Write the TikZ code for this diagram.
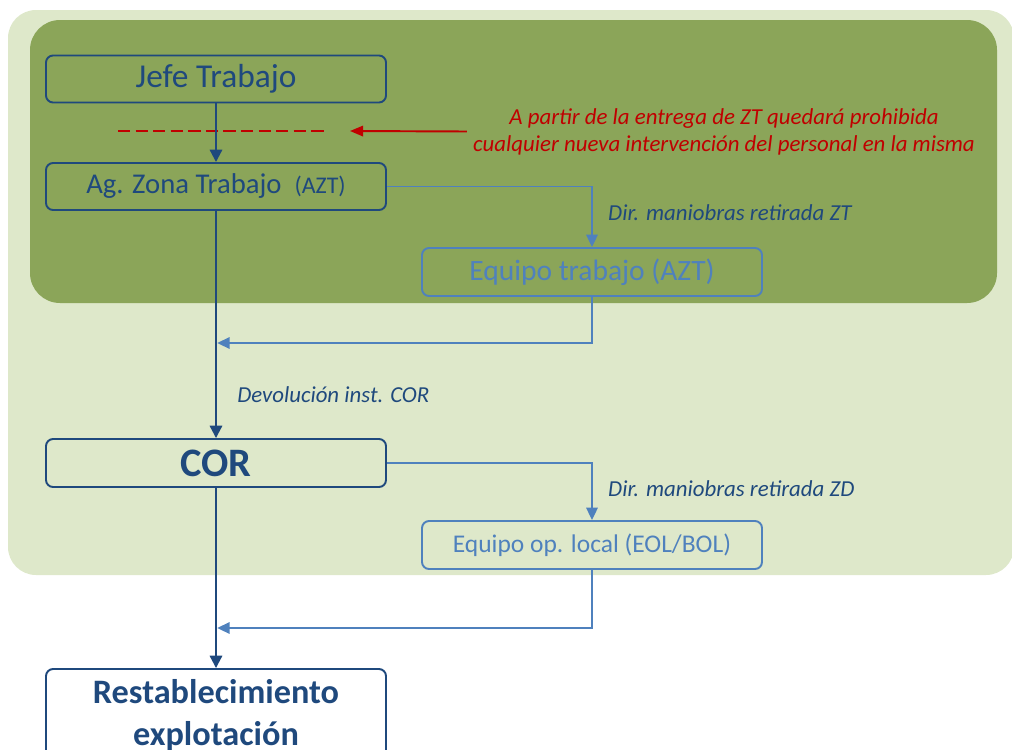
\documentclass[tikz,border=0pt]{standalone}
\usepackage{fontspec}
\setmainfont{Carlito}
\usetikzlibrary{shapes, arrows.meta}
\definecolor{darkblue}{RGB}{31,73,125}
\definecolor{lightblue}{RGB}{79,129,189}
\definecolor{darkred}{RGB}{192,0,0}
\definecolor{oliveback}{RGB}{139,165,89}
\definecolor{paleback}{RGB}{222,232,202}
\tikzstyle{mainbox} = [rectangle, rounded corners=4pt, minimum width=6.8cm, minimum height=0.94cm, text centered, draw=darkblue, line width=1.1pt, text=darkblue]
\tikzstyle{teambox} = [rectangle, rounded corners=4pt, minimum width=6.8cm, minimum height=0.96cm, text centered, draw=lightblue, line width=1.1pt, text=lightblue]
\tikzstyle{mainarrow} = [darkblue, line width=1.2pt, -{Triangle[length=7pt,width=7pt]}]
\tikzstyle{teamarrow} = [lightblue, line width=1pt, -{Triangle[length=7pt,width=6.5pt]}]
\tikzstyle{redarrow} = [darkred, line width=1.1pt, -{Triangle[length=7.5pt,width=6pt]}]
\tikzstyle{steplabel} = [font=\fontsize{13}{15}\selectfont\itshape, text=darkblue, anchor=west]

\begin{document}
\begin{tikzpicture}[node distance=2.15cm]

\clip (0,0) rectangle (20.24,-14.98);

% Background areas
\fill [paleback, rounded corners=0.56cm] (0.16,-0.2) rectangle (20.28,-11.5);
\fill [oliveback, rounded corners=0.6cm] (0.6,-0.4) rectangle (19.94,-6.06);

% Nodes
\node (jefe) [mainbox, font=\fontsize{19}{23}\selectfont] at (4.32,-1.58) {Jefe Trabajo};
\node (ag) [below of=jefe, mainbox, font=\fontsize{16.3}{20}\selectfont] {Ag. Zona Trabajo \ {\fontsize{13.6}{16}\selectfont (AZT)}};
\node (eqt) [right of=ag, xshift=5.37cm, yshift=-1.71cm, teambox, font=\fontsize{16.8}{20}\selectfont] {Equipo trabajo (AZT)};
\node (cor) [below of=ag, yshift=-3.38cm, mainbox, minimum height=0.96cm, font=\fontsize{23}{27}\selectfont\bfseries] {COR};
\node (eol) [right of=cor, xshift=5.37cm, yshift=-1.64cm, teambox, font=\fontsize{14.5}{17}\selectfont] {Equipo op. local (EOL/BOL)};
\node (rest) [below of=cor, yshift=-2.89cm, mainbox, minimum height=1.84cm, align=center, font=\fontsize{19.5}{23.8}\selectfont\bfseries] {Restablecimiento\\ explotación};
\node (note) [align=center, text=darkred, font=\fontsize{13}{15.3}\selectfont\itshape] at (14.48,-2.63) {A partir de la entrega de ZT quedará prohibida\\ cualquier nueva intervención del personal en la misma};

\coordinate (cuta) at (2.36,-2.62);
\coordinate (cutb) at (6.52,-2.62);
\coordinate (cuttip) at (7.0,-2.62);
\coordinate (join1) at (4.345,-6.86);
\coordinate (join2) at (4.345,-12.56);

% Arrows
\draw [darkred, line width=1.1pt, dash pattern=on 7pt off 3pt] (cuta) -- (cutb);
\draw [redarrow] (note.west) -- (cuttip);
\draw [mainarrow] (jefe) -- (ag);
\draw [mainarrow] (ag) -- node[steplabel, pos=0.81, xshift=0.29cm] {Devolución inst. COR} (cor);
\draw [mainarrow] (cor) -- (rest);
\draw [teamarrow] (ag.east) -| node[steplabel, pos=0.715, xshift=0.19cm] {Dir. maniobras retirada ZT} (eqt.north);
\draw [teamarrow] (eqt.south) |- (join1);
\draw [teamarrow] (cor.east) -| node[steplabel, pos=0.724, xshift=0.19cm] {Dir. maniobras retirada ZD} (eol.north);
\draw [teamarrow] (eol.south) |- (join2);

\end{tikzpicture}
\end{document}
